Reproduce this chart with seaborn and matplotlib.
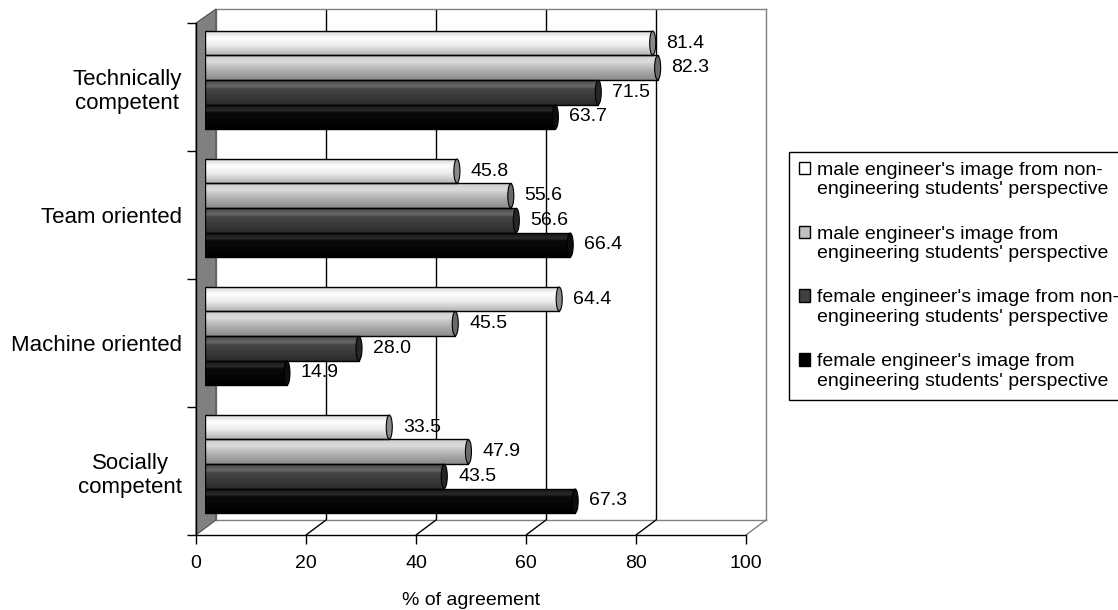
import numpy as np
import pandas as pd
import matplotlib
matplotlib.use("Agg")
import matplotlib.pyplot as plt
import seaborn as sns
from matplotlib.patches import Polygon, Ellipse, Patch
from matplotlib.lines import Line2D
from matplotlib.colors import to_rgb
from matplotlib.transforms import IdentityTransform

# ---------------- data ----------------
categories = ["Technically\ncompetent", "Team oriented", "Machine oriented", "Socially\ncompetent"]
series = [
    "male engineer's image from non-\nengineering students' perspective",
    "male engineer's image from\nengineering students' perspective",
    "female engineer's image from non-\nengineering students' perspective",
    "female engineer's image from\nengineering students' perspective",
]
male_non_eng = [81.4, 45.8, 64.4, 33.5]
male_eng = [82.3, 55.6, 45.5, 47.9]
female_non_eng = [71.5, 56.6, 28.0, 43.5]
female_eng = [63.7, 66.4, 14.9, 67.3]
x_ticks = [0, 20, 40, 60, 80, 100]
x_label = "% of agreement"

# ---------------- styles ----------------
legend_colors = ["#ffffff", "#c0c0c0", "#404040", "#000000"]
shade_stops = [
    [(0.0, "#d0d0d0"), (0.3, "#ffffff"), (0.6, "#ededed"), (1.0, "#b5b5b5")],
    [(0.0, "#cccccc"), (0.25, "#dcdcdc"), (0.6, "#b0b0b0"), (1.0, "#8a8a8a")],
    [(0.0, "#4a4a4a"), (0.25, "#666666"), (0.35, "#474747"), (1.0, "#2a2a2a")],
    [(0.0, "#121212"), (0.25, "#2a2a2a"), (0.35, "#0a0a0a"), (1.0, "#000000")],
]
cap_colors = ["#8a8a8a", "#6a6a6a", "#262626", "#0d0d0d"]

sns.set_style("white")
plt.rcParams["font.family"] = ["Liberation Sans", "DejaVu Sans"]
for k in ["text.color", "axes.labelcolor", "xtick.color", "ytick.color", "axes.edgecolor"]:
    plt.rcParams[k] = "black"

W, H = 1118, 610
fig = plt.figure(figsize=(W / 100, H / 100), dpi=100)
fig.patch.set_facecolor("white")


def box(x0, y0, x1, y1):
    return [x0 / W, 1 - y1 / H, (x1 - x0) / W, (y1 - y0) / H]


ncat = len(categories)
ylims = (ncat - 0.5, -0.5)

# back wall
ax_back = fig.add_axes(box(216, 9, 766, 520), zorder=0)
ax_back.set_xlim(0, 100)
ax_back.set_ylim(*ylims)
ax_back.set_facecolor("white")
ax_back.set_xticks(x_ticks)
ax_back.set_yticks([])
ax_back.tick_params(length=0, labelbottom=False, labelleft=False, bottom=False, left=False)
for s in ax_back.spines.values():
    s.set_color("#808080")
    s.set_linewidth(1)
for v in x_ticks[1:-1]:
    ax_back.axvline(v, color="black", lw=1, zorder=0.5)

# front plane (axis, ticks, labels)
ax_front = fig.add_axes(box(196, 23, 746, 535), zorder=2)
ax_front.set_facecolor("none")
ax_front.set_xlim(0, 100)
ax_front.set_ylim(*ylims)
ax_front.set_xticks(x_ticks)
ax_front.set_xticklabels([str(t) for t in x_ticks], fontsize=14)
ax_front.tick_params(axis="x", bottom=True, direction="out", length=6.5, width=1, pad=8)
ax_front.set_yticks(np.arange(-0.5, ncat, 1.0))
ax_front.set_yticklabels([""] * (ncat + 1))
ax_front.set_yticks(np.arange(ncat), minor=True)
ax_front.set_yticklabels(categories, minor=True, fontsize=16)
ax_front.tick_params(axis="y", which="major", left=True, direction="out", length=6.5, width=1)
ax_front.tick_params(axis="y", which="minor", left=True, length=0, pad=10)
for lbl in ax_front.get_yticklabels(minor=True):
    lbl.set_multialignment("center")
for side in ["top", "right"]:
    ax_front.spines[side].set_visible(False)
for side in ["left", "bottom"]:
    ax_front.spines[side].set_color("black")
    ax_front.spines[side].set_linewidth(1)
ax_front.set_xlabel(x_label, fontsize=14, labelpad=14)

# bars plane
ax = fig.add_axes(box(205, 16, 755, 528), zorder=3)
rows = []
for vals, s in zip([male_non_eng, male_eng, female_non_eng, female_eng], series):
    for c, v in zip(categories, vals):
        rows.append({"category": c, "series": s, "value": v})
df = pd.DataFrame(rows)
sns.barplot(data=df, x="value", y="category", hue="series", order=categories,
            hue_order=series, palette=legend_colors, orient="h", width=0.77,
            edgecolor="black", linewidth=1, saturation=1, legend=False, ax=ax)
ax.set_xlim(0, 100)
ax.set_ylim(*ylims)


def gradient(stops, n=80):
    pos = [p for p, _ in stops]
    cols = np.array([to_rgb(c) for _, c in stops])
    t = np.linspace(0, 1, n)
    img = np.stack([np.interp(t, pos, cols[:, i]) for i in range(3)], axis=-1)
    return img[:, None, :]


for hi, cont in enumerate(ax.containers):
    grad = gradient(shade_stops[hi])
    for patch in cont:
        x, y, w, h = patch.get_x(), patch.get_y(), patch.get_width(), patch.get_height()
        patch.set_facecolor("none")
        patch.set_zorder(3)
        im = ax.imshow(grad, extent=(x, x + w, y + h, y), origin="upper",
                       aspect="auto", interpolation="bilinear", zorder=2.5)
        im.set_clip_path(patch)
        cap = Ellipse((x + w, y + h / 2), width=1.1, height=h * 0.97,
                      facecolor=cap_colors[hi], edgecolor="black", lw=0.8, zorder=3.2)
        ax.add_patch(cap)
    ax.bar_label(cont, fmt="%.1f", padding=10, fontsize=14, color="black")

ax.set_xlim(0, 100)
ax.set_ylim(*ylims)
ax.axis("off")

# 3D connectors: left wall and floor
fT = ax_front.transData
bT = ax_back.transData
bottom_y = ylims[0]
top_y = ylims[1]
wall = Polygon([fT.transform((0, top_y)), bT.transform((0, top_y)),
                bT.transform((0, bottom_y)), fT.transform((0, bottom_y))],
               closed=True, facecolor="#808080", edgecolor="#505050", lw=0.8,
               transform=IdentityTransform(), zorder=1)
fig.add_artist(wall)
for v in x_ticks[1:]:
    col = "black" if v != x_ticks[-1] else "#808080"
    p0 = fT.transform((v, bottom_y))
    p1 = bT.transform((v, bottom_y))
    fig.add_artist(Line2D([p0[0], p1[0]], [p0[1], p1[1]], color=col, lw=1,
                          transform=IdentityTransform(), zorder=1))

# legend
handles = [Patch(facecolor=c, edgecolor="black", lw=1) for c in legend_colors]
leg = fig.legend(handles, series, loc="upper left", bbox_to_anchor=(789 / W, 1 - 152 / H),
                 frameon=True, fancybox=False, edgecolor="black", framealpha=1,
                 fontsize=14, handlelength=0.6, handleheight=0.6, handletextpad=0.35,
                 borderpad=0.5, labelspacing=1.4, borderaxespad=0)
leg.get_frame().set_linewidth(1)
leg.set_zorder(10)
try:
    for col in leg._legend_handle_box.get_children():
        for row in col.get_children():
            row.align = "top"
except Exception:
    pass

fig.savefig("out.png", dpi=100)
